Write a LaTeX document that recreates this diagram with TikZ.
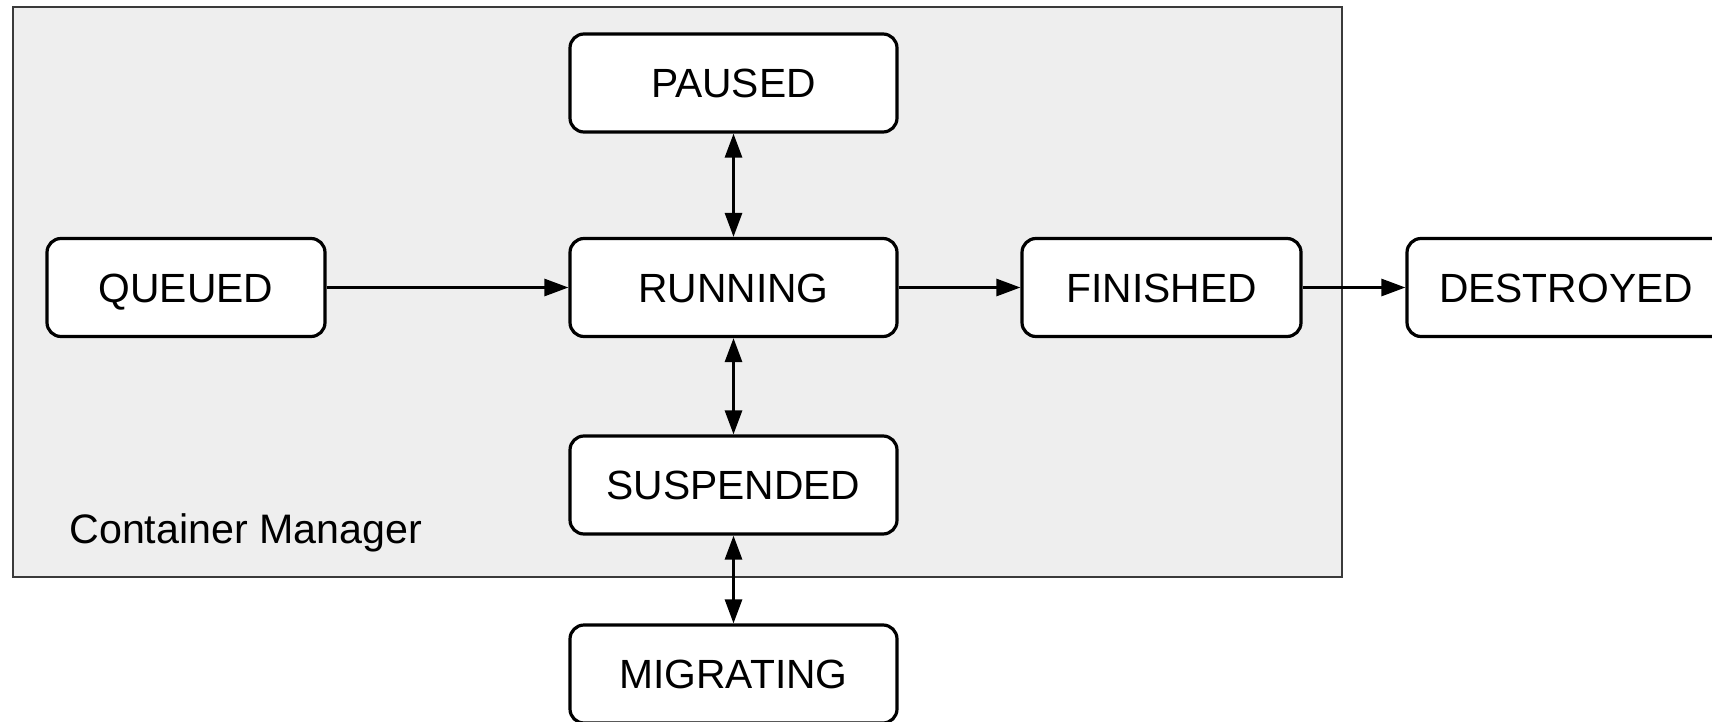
\documentclass[tikz,border=0pt]{standalone}
\usepackage{fontspec}
\setmainfont{Liberation Sans}
\usetikzlibrary{arrows.meta}
\definecolor{cmfill}{HTML}{EEEEEE}
\definecolor{cmline}{HTML}{3A3A3A}
\begin{document}
\begin{tikzpicture}[x=0.5pt,y=-0.5pt,
  state/.style={draw=black, fill=white, line width=1.6pt, rounded corners=7pt,
    minimum height=49pt, inner sep=0pt, font=\fontsize{20.4pt}{24pt}\selectfont,
    text height=14.6pt, text depth=0pt},
  link/.style={line width=1.4pt, -{Triangle[length=12pt,width=8.5pt]}},
  both/.style={line width=1.4pt, {Triangle[length=12pt,width=8.5pt]}-{Triangle[length=12pt,width=8.5pt]}}
]
\useasboundingbox (0,0) rectangle (1712,722);
\fill[white] (0,0) rectangle (1712,722);
\draw[fill=cmfill, draw=cmline, line width=0.8pt] (13,7) rectangle (1342,577);

\node[state, minimum width=163.5pt] (paused) at (733.5,83) {PAUSED};
\node[state, minimum width=139pt] (queued) at (186,287.5) {QUEUED};
\node[state, minimum width=163.5pt] (running) at (733.5,287.5) {RUNNING};
\node[state, minimum width=139.5pt] (finished) at (1161.5,287.5) {FINISHED};
\node[state, minimum width=159pt] (destroyed) at (1566,287.5) {DESTROYED};
\node[state, minimum width=163.5pt] (suspended) at (733.5,485) {SUSPENDED};
\node[state, minimum width=163.5pt] (migrating) at (733.5,674) {MIGRATING};
\node[anchor=base west, inner sep=0pt, font=\fontsize{20.6pt}{24pt}\selectfont] (cm) at (69,543) {Container Manager};

\draw[link] (queued) -- (running);
\draw[link] (running) -- (finished);
\draw[link] (finished) -- (destroyed);
\draw[both] (paused) -- (running);
\draw[both] (running) -- (suspended);
\draw[both] (suspended) -- (migrating);
\end{tikzpicture}
\end{document}
